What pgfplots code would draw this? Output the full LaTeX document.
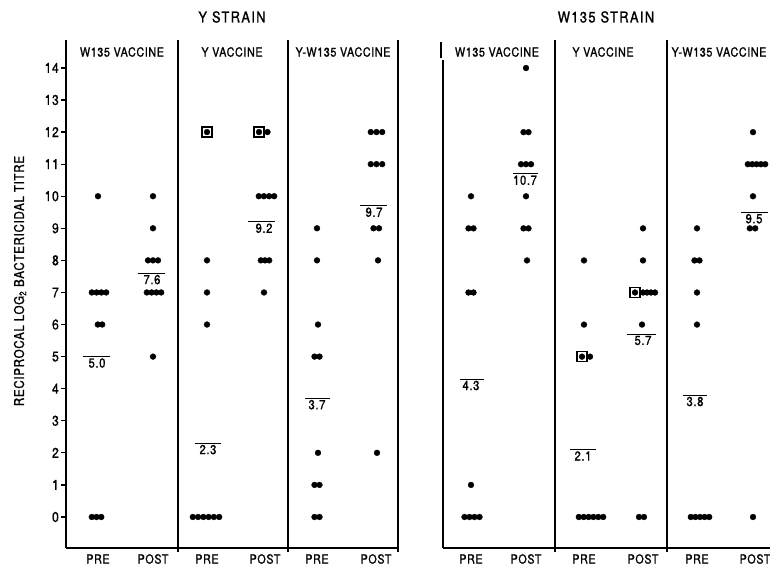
\documentclass[border=0pt]{standalone}
\usepackage{fontspec}
\setmainfont{TeX Gyre Heros}[FakeStretch=0.86, FakeBold=1.2, LetterSpace=5]
\usepackage{pgfplots}
\pgfplotsset{compat=1.18}
\pgfplotsset{
  panel/.style={
    scale only axis, clip=false,
    axis x line=bottom, axis y line=left,
    axis line style={line width=1.6pt,-},
    xtick=\empty,
    ymin=-0.967,
    /pgf/number format/assume math mode=true,
  },
  dots/.style={only marks, mark=*, mark size=2.9pt, black},
  boxm/.style={only marks, mark=square, mark size=5pt, black, mark options={line width=1.4pt}},
  meanl/.style={black, line width=1pt, no marks},
}
\tikzset{lab/.style={below, inner sep=1.5pt, font=\fontsize{13}{13}\selectfont}}
\begin{document}
\begin{tikzpicture}[x=1pt,y=1pt]
\useasboundingbox (0,0) rectangle (770,566);
\fontsize{12}{14}\selectfont
% ---------------- Y STRAIN ----------------
\begin{axis}[panel, at={(66pt,18pt)}, anchor=south west,
  width=332pt, height=508pt, xmin=66, xmax=398, ymax=14.87,
  ytick={0,1,...,14}, tick align=outside, major tick length=5pt,
  y tick style={line width=1.2pt, black},
  yticklabel style={font=\fontsize{14}{14}\selectfont, inner sep=2pt}]
% dividers
\draw[line width=1.3pt] (axis cs:178,-1.1) -- (axis cs:178,14.87);
\draw[line width=1.3pt] (axis cs:288,-1.1) -- (axis cs:288,14.87);
\draw[line width=1.3pt] (axis cs:398,-1.1) -- (axis cs:398,14.87);
% W135 vaccine PRE
\addplot[dots] coordinates {(98,10) (91.8,7) (96.6,7) (101.4,7) (106.2,7) (97.8,6) (102.2,6) (91.8,0) (96.5,0) (101.3,0)};
\addplot[meanl] coordinates {(83,5.0) (110,5.0)};
\node[lab] at (axis cs:97,5.0) {5.0};
% W135 vaccine POST
\addplot[dots] coordinates {(153,10) (153,9) (148,8) (153,8) (158,8) (146.8,7) (151.6,7) (156.4,7) (161.2,7) (153,5)};
\addplot[meanl] coordinates {(138,7.6) (165,7.6)};
\node[lab] at (axis cs:152,7.6) {7.6};
% Y vaccine PRE
\addplot[boxm] coordinates {(207,12)};
\addplot[dots] coordinates {(207,12) (207,8) (207,7) (207,6) (192.8,0) (198.1,0) (203.4,0) (208.6,0) (213.9,0) (219.2,0)};
\addplot[meanl] coordinates {(195,2.3) (221,2.3)};
\node[lab] at (axis cs:208,2.3) {2.3};
% Y vaccine POST
\addplot[boxm] coordinates {(259,12)};
\addplot[dots] coordinates {(259,12) (267.5,12) (258.8,10) (263.9,10) (269.1,10) (274.2,10) (260.8,8) (265,8) (269.2,8) (264,7)};
\addplot[meanl] coordinates {(248,9.2) (275,9.2)};
\node[lab] at (axis cs:264,9.2) {9.2};
% Y-W135 vaccine PRE
\addplot[dots] coordinates {(317,9) (317,8) (318,6) (314.5,5) (319.5,5) (318,2) (314.5,1) (319.5,1) (314.5,0) (319.5,0)};
\addplot[meanl] coordinates {(305,3.7) (330,3.7)};
\node[lab] at (axis cs:317,3.7) {3.7};
% Y-W135 vaccine POST
\addplot[dots] coordinates {(370.8,12) (376.5,12) (382.2,12) (370.8,11) (376.5,11) (382.2,11) (373.5,9) (379,9) (378,8) (377,2)};
\addplot[meanl] coordinates {(360,9.7) (387,9.7)};
\node[lab] at (axis cs:374,9.7) {9.7};
\end{axis}
% ---------------- W135 STRAIN ----------------
\begin{axis}[panel, at={(443pt,18pt)}, anchor=south west,
  width=327pt, height=488pt, xmin=443, xmax=770, ymax=14.25,
  ytick=\empty]
\draw[line width=1.3pt] (axis cs:555,-1.1) -- (axis cs:555,14.87);
\draw[line width=1.3pt] (axis cs:667,-1.1) -- (axis cs:667,14.87);
\draw[line width=1.3pt] (axis cs:441,14.3) -- (axis cs:441,14.82);
% W135 vaccine PRE
\addplot[dots] coordinates {(471,10) (468.5,9) (473.5,9) (468.5,7) (473.5,7) (471,1) (464.5,0) (469.5,0) (474.5,0) (479.5,0)};
\addplot[meanl] coordinates {(460,4.3) (484,4.3)};
\node[lab] at (axis cs:471,4.3) {4.3};
% W135 vaccine POST
\addplot[dots] coordinates {(526,14) (523.5,12) (528.5,12) (521,11) (526,11) (531,11) (526,10) (523.5,9) (528.5,9) (527,8)};
\addplot[meanl] coordinates {(513,10.7) (538,10.7)};
\node[lab] at (axis cs:525,10.7) {10.7};
% Y vaccine PRE
\addplot[boxm] coordinates {(582,5)};
\addplot[dots] coordinates {(584,8) (584,6) (582,5) (590,5) (578.8,0) (583.7,0) (588.6,0) (593.4,0) (598.3,0) (603.2,0)};
\addplot[meanl] coordinates {(570,2.1) (596,2.1)};
\node[lab] at (axis cs:583,2.1) {2.1};
% Y vaccine POST
\addplot[boxm] coordinates {(635,7)};
\addplot[dots] coordinates {(643,9) (643,8) (635,7) (643,7) (647,7) (651,7) (655,7) (642,6) (639,0) (644,0)};
\addplot[meanl] coordinates {(627,5.7) (656,5.7)};
\node[lab] at (axis cs:643,5.7) {5.7};
% Y-W135 vaccine PRE
\addplot[dots] coordinates {(697,9) (694.5,8) (699.5,8) (697,7) (697,6) (690.8,0) (695.4,0) (700,0) (704.6,0) (709.2,0)};
\addplot[meanl] coordinates {(683,3.8) (707,3.8)};
\node[lab] at (axis cs:695,3.8) {3.8};
% Y-W135 vaccine POST
\addplot[dots] coordinates {(753,12) (747.8,11) (752.2,11) (756.5,11) (760.9,11) (765.2,11) (753,10) (749.8,9) (755.2,9) (753,0)};
\addplot[meanl] coordinates {(741,9.5) (768,9.5)};
\node[lab] at (axis cs:754,9.5) {9.5};
\end{axis}
% ---------------- texts ----------------
\begin{scope}[every node/.style={font=\fontsize{15}{17}\selectfont\addfontfeature{LetterSpace=9}}]
\node at (232,549) {Y STRAIN};
\node at (606,549) {W135 STRAIN};
\end{scope}
\begin{scope}[every node/.style={font=\fontsize{12.5}{14}\selectfont}]
\node at (122,514) {W135 VACCINE};
\node at (232,514) {Y VACCINE};
\node at (343,514) {Y-W135 VACCINE};
\node at (497,514) {W135 VACCINE};
\node at (603,514) {Y VACCINE};
\node at (719,514) {Y-W135 VACCINE};
\node at (98,7) {PRE};
\node at (153,7) {POST};
\node at (207,7) {PRE};
\node at (265,7) {POST};
\node at (317,7) {PRE};
\node at (376,7) {POST};
\node at (471,7) {PRE};
\node at (526,7) {POST};
\node at (584,7) {PRE};
\node at (643,7) {POST};
\node at (697,7) {PRE};
\node at (755,7) {POST};
\end{scope}
\node[rotate=90, font=\fontsize{13.5}{15}\selectfont] at (20,285) {RECIPROCAL LOG\textsubscript{2} BACTERICIDAL TITRE};
\end{tikzpicture}
\end{document}
